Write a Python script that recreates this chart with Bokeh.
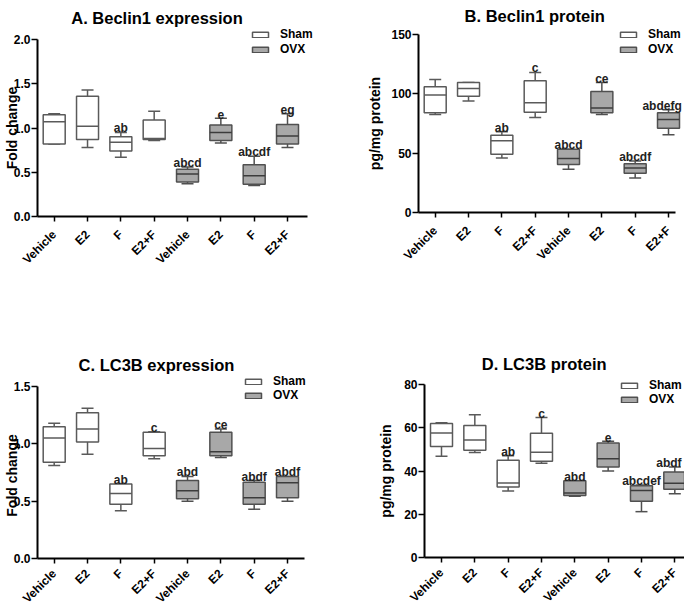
import math
from bokeh.plotting import figure
from bokeh.layouts import column, row
from bokeh.models import (Range1d, FixedTicker, PrintfTickFormatter, Legend,
                          LegendItem, Label, ColumnDataSource)
from bokeh.embed import file_html
from bokeh.resources import INLINE
from bokeh.core.properties import value

# ---------------- data ----------------
groups = ["Vehicle", "E2", "F", "E2+F", "Vehicle", "E2", "F", "E2+F"]
series = ["Sham", "Sham", "Sham", "Sham", "OVX", "OVX", "OVX", "OVX"]

# A. Beclin1 expression (fold change)
a_low = [0.82, 0.78, 0.67, 0.86, 0.37, 0.83, 0.35, 0.78]
a_q1 = [0.82, 0.87, 0.74, 0.87, 0.39, 0.86, 0.365, 0.82]
a_med = [1.07, 1.02, 0.84, 0.88, 0.48, 0.95, 0.46, 0.91]
a_q3 = [1.15, 1.36, 0.90, 1.09, 0.535, 1.035, 0.585, 1.04]
a_high = [1.16, 1.43, 0.95, 1.19, 0.56, 1.11, 0.68, 1.16]
a_sig = ["", "", "ab", "", "abcd", "e", "abcdf", "eg"]
a_yticks = [0, 0.5, 1.0, 1.5, 2.0]

# B. Beclin1 protein (pg/mg protein)
b_low = [82.6, 94.0, 46.0, 80.0, 36.5, 82.6, 29.0, 65.5]
b_q1 = [84.0, 98.0, 49.0, 84.5, 40.4, 84.0, 33.0, 71.0]
b_med = [99.0, 104.5, 60.4, 92.4, 45.5, 88.0, 37.4, 78.4]
b_q3 = [106.0, 109.5, 65.0, 111.0, 53.4, 102.0, 41.0, 84.0]
b_high = [112.0, 109.5, 68.0, 118.0, 53.4, 109.5, 43.5, 86.5]
b_sig = ["", "", "ab", "c", "abcd", "ce", "abcdf", "abdefg"]
b_yticks = [0, 50, 100, 150]

# C. LC3B expression (fold change)
c_low = [0.81, 0.91, 0.417, 0.87, 0.50, 0.88, 0.43, 0.50]
c_q1 = [0.84, 1.015, 0.474, 0.897, 0.52, 0.897, 0.474, 0.53]
c_med = [1.05, 1.13, 0.567, 0.96, 0.59, 0.93, 0.53, 0.66]
c_q3 = [1.15, 1.27, 0.65, 1.10, 0.68, 1.10, 0.665, 0.716]
c_high = [1.18, 1.31, 0.65, 1.105, 0.716, 1.13, 0.68, 0.716]
c_sig = ["", "", "ab", "c", "abd", "ce", "abdf", "abdf"]
c_yticks = [0, 0.5, 1.0, 1.5]

# D. LC3B protein (pg/mg protein)
d_low = [46.8, 48.6, 30.8, 43.6, 28.3, 40.0, 21.2, 29.5]
d_q1 = [51.3, 49.6, 32.6, 44.5, 28.7, 41.8, 26.0, 31.6]
d_med = [57.6, 54.3, 34.5, 48.7, 29.8, 45.7, 31.0, 34.3]
d_q3 = [62.0, 61.0, 45.0, 57.4, 35.5, 53.0, 33.2, 39.5]
d_high = [62.3, 66.0, 47.0, 64.7, 35.5, 53.7, 33.5, 41.8]
d_sig = ["", "", "ab", "c", "abd", "e", "abcdef", "abdf"]
d_yticks = [0, 20, 40, 60, 80]

# ---------------- style ----------------
FONT = "Liberation Sans"
STYLE = {
    "Sham": dict(fill="#ffffff", line="#5a5a5a", median="#5a5a5a"),
    "OVX": dict(fill="#a8a8a8", line="#505050", median="#3c3c3c"),
}
BOX_W = 0.66
CAP_W = 0.36
W = 342
PX_PER_CAT = 33.33
SIG_CHAR_W = 6.8   # approx. width of one 12px bold character


def make_panel(title, ylabel, yticks, fmt, low, q1, med, q3, high, sig, cfg):
    H = cfg["H"]
    tick0 = cfg["tick0"]
    x0 = -tick0 / PX_PER_CAT
    x1 = x0 + W / PX_PER_CAT
    yax_loc = (cfg["yax_x"] - tick0) / PX_PER_CAT
    xax_end = (cfg["xend_x"] - tick0) / PX_PER_CAT
    ymax = yticks[-1]
    pxu = (cfg["axis_y"] - cfg["top_y"]) / ymax
    y1 = cfg["axis_y"] / pxu
    y0 = -(H - cfg["axis_y"]) / pxu

    p = figure(width=W, height=H, output_backend="svg", toolbar_location=None,
               x_range=Range1d(x0, x1), y_range=Range1d(y0, y1),
               min_border_left=0, min_border_right=0,
               min_border_top=0, min_border_bottom=0, title=None)
    p.outline_line_color = None
    p.grid.visible = False
    p.background_fill_color = "white"
    p.border_fill_color = "white"

    xs = list(range(len(groups)))
    legend_items = []
    for s in ["Sham", "OVX"]:
        idx = [i for i in xs if series[i] == s]
        st = STYLE[s]
        src = ColumnDataSource(dict(
            x=[xs[i] for i in idx],
            low=[low[i] for i in idx], q1=[q1[i] for i in idx],
            med=[med[i] for i in idx], q3=[q3[i] for i in idx],
            high=[high[i] for i in idx],
            xl=[xs[i] - BOX_W / 2 for i in idx], xr=[xs[i] + BOX_W / 2 for i in idx],
            cl=[xs[i] - CAP_W / 2 for i in idx], cr=[xs[i] + CAP_W / 2 for i in idx],
        ))
        p.segment(x0="x", y0="q3", x1="x", y1="high", source=src,
                  line_color=st["line"], line_width=1.5)
        p.segment(x0="x", y0="low", x1="x", y1="q1", source=src,
                  line_color=st["line"], line_width=1.5)
        p.segment(x0="cl", y0="high", x1="cr", y1="high", source=src,
                  line_color=st["line"], line_width=1.5)
        p.segment(x0="cl", y0="low", x1="cr", y1="low", source=src,
                  line_color=st["line"], line_width=1.5)
        r = p.vbar(x="x", width=BOX_W, bottom="q1", top="q3", source=src,
                   fill_color=st["fill"], line_color=st["line"], line_width=1.5)
        p.segment(x0="xl", y0="med", x1="xr", y1="med", source=src,
                  line_color=st["median"], line_width=1.5)
        legend_items.append(LegendItem(label=s, renderers=[r]))

    # significance letters, nudged left only if they would run off the canvas
    dx = []
    for i, t in enumerate(sig):
        cx = tick0 + i * PX_PER_CAT
        half = len(t) * SIG_CHAR_W / 2
        dx.append(min(0.0, (W - 2) - (cx + half)))
    sig_src = ColumnDataSource(dict(x=xs, y=high, t=sig, dx=dx))
    p.text(x="x", y="y", text="t", source=sig_src, x_offset="dx", y_offset=-4,
           text_align="center", text_baseline="alphabetic",
           text_font=value(FONT), text_font_style="bold",
           text_font_size="12px", text_color="#222222")

    for ax in (p.xaxis[0], p.yaxis[0]):
        ax.axis_line_color = "black"
        ax.axis_line_width = 2
        ax.major_tick_line_color = "black"
        ax.major_tick_line_width = 1.5
        ax.major_tick_in = 0
        ax.minor_tick_line_color = None
        ax.major_label_text_font = FONT
        ax.major_label_text_font_style = "bold"
        ax.major_label_text_font_size = "12px"
        ax.major_label_text_color = "black"
    xa = p.xaxis[0]
    xa.fixed_location = 0
    xa.ticker = FixedTicker(ticks=xs)
    xa.major_label_overrides = {i: g for i, g in zip(xs, groups)}
    xa.major_label_orientation = math.pi / 4
    xa.major_tick_out = 5
    xa.major_label_standoff = cfg["xstand"]
    xa.bounds = (yax_loc, xax_end)

    ya = p.yaxis[0]
    ya.fixed_location = yax_loc
    ya.ticker = FixedTicker(ticks=yticks)
    if fmt:
        ya.formatter = PrintfTickFormatter(format=fmt)
    ya.bounds = (0, ymax)
    ya.major_tick_out = 6
    ya.major_label_standoff = 1

    ylab_font = dict(text_font=FONT, text_font_style="bold",
                     text_font_size="14px", text_color="black")
    if cfg["ylabel_pos"] is None:
        ya.axis_label = ylabel
        ya.axis_label_text_font = FONT
        ya.axis_label_text_font_style = "bold"
        ya.axis_label_text_font_size = "14px"
        ya.axis_label_text_color = "black"
        ya.axis_label_standoff = cfg["lstand"]
    else:
        lx, ly = cfg["ylabel_pos"]
        p.add_layout(Label(x=lx, y=H - ly, x_units="screen", y_units="screen",
                           text=ylabel, angle=math.pi / 2, text_align="center",
                           text_baseline="alphabetic", **ylab_font))

    sx, sy = cfg["legend"]
    leg = Legend(items=legend_items, location=(sx, H - (sy + cfg["leg_h"])),
                 glyph_width=20, glyph_height=7, label_standoff=10,
                 padding=0, margin=0, spacing=cfg["spacing"], label_height=7,
                 border_line_color=None, background_fill_alpha=0,
                 label_text_font=FONT, label_text_font_style="bold",
                 label_text_font_size="12px", label_text_color="black",
                 label_text_baseline="alphabetic")
    p.add_layout(leg)

    tx, ty = cfg["title"]
    p.add_layout(Label(x=tx, y=H - ty, x_units="screen", y_units="screen",
                       text=title, text_align="center", text_baseline="alphabetic",
                       text_font=FONT, text_font_style="bold",
                       text_font_size="16.5px", text_color="black"))
    return p


cfgA = dict(H=299, yax_x=37, tick0=53.7, xend_x=307, axis_y=216, top_y=39,
            ylabel_pos=(11, 127.5), lstand=0, xstand=11,
            legend=(250, 27), leg_h=29, spacing=1, title=(156.5, 17))
cfgB = dict(H=299, yax_x=76, tick0=92.7, xend_x=333, axis_y=212, top_y=34,
            ylabel_pos=None, lstand=5, xstand=11,
            legend=(276, 27), leg_h=29, spacing=1, title=(194.5, 15))
cfgC = dict(H=307, yax_x=37, tick0=53.7, xend_x=304, axis_y=259, top_y=87,
            ylabel_pos=(11, 176), lstand=0, xstand=8,
            legend=(243, 75), leg_h=28, spacing=0, title=(156, 65))
cfgD = dict(H=307, yax_x=82, tick0=99.0, xend_x=342, axis_y=258, top_y=85,
            ylabel_pos=None, lstand=7, xstand=8,
            legend=(277, 79), leg_h=28, spacing=0, title=(204, 64))

pA = make_panel("A. Beclin1 expression", "Fold change", a_yticks, "%.1f",
                a_low, a_q1, a_med, a_q3, a_high, a_sig, cfgA)
pB = make_panel("B. Beclin1  protein", "pg/mg protein", b_yticks, None,
                b_low, b_q1, b_med, b_q3, b_high, b_sig, cfgB)
pC = make_panel("C. LC3B expression", "Fold change", c_yticks, "%.1f",
                c_low, c_q1, c_med, c_q3, c_high, c_sig, cfgC)
pD = make_panel("D. LC3B  protein", "pg/mg protein", d_yticks, None,
                d_low, d_q1, d_med, d_q3, d_high, d_sig, cfgD)

layout = column(row(pA, pB), row(pC, pD))
open("out.html", "w").write(file_html(layout, INLINE))
